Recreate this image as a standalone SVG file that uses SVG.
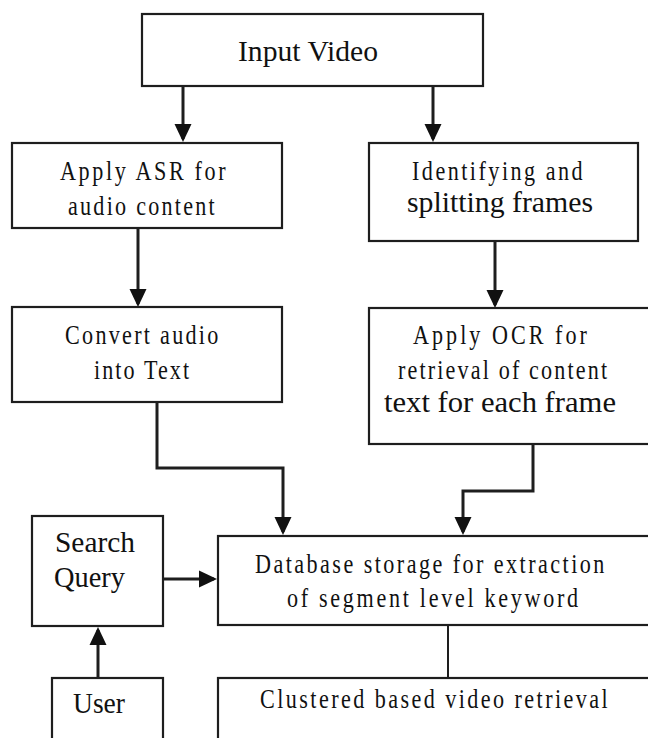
<svg xmlns="http://www.w3.org/2000/svg" width="648" height="738" viewBox="0 0 648 738">
  <style>
    .box { fill: #ffffff; stroke: #1e1e1e; stroke-width: 2.2; }
    .lbl { font-family: "Liberation Serif", "Times New Roman", serif; fill: #111111; }
    .sp  { font-size: 27px; }
    .big { font-size: 29px; }
    .wire { fill: none; stroke: #1e1e1e; stroke-width: 3; stroke-linejoin: miter; }
    .thin { fill: none; stroke: #1e1e1e; stroke-width: 2; }
  </style>
  <defs>
    <marker id="arrow" markerUnits="userSpaceOnUse" markerWidth="18" markerHeight="18" viewBox="0 0 18 18" refX="15" refY="9" orient="auto">
      <path d="M0,0.5 L18,9 L0,17.5 z" fill="#111111"/>
    </marker>
  </defs>
  <rect x="0" y="0" width="648" height="738" fill="#ffffff"/>

  <g id="connectors">
    <path class="wire" d="M183,86 V139" marker-end="url(#arrow)"/>
    <path class="wire" d="M433,86 V139" marker-end="url(#arrow)"/>
    <path class="wire" d="M138,228 V304" marker-end="url(#arrow)"/>
    <path class="wire" d="M495,241 V305" marker-end="url(#arrow)"/>
    <path class="wire" d="M157,402 V468 H283 V532" marker-end="url(#arrow)"/>
    <path class="wire" d="M533,444 V491 H463 V532" marker-end="url(#arrow)"/>
    <path class="wire" d="M156,579 H214" marker-end="url(#arrow)"/>
    <path class="wire" d="M98,677 V630" marker-end="url(#arrow)"/>
    <path class="thin" d="M448,625 V678"/>
  </g>

  <!-- spaced labels use condensed glyphs: x scaled by 0.82, so textLength = width / 0.82 -->
  <g id="input-video">
    <rect class="box" x="142" y="14" width="341" height="72"/>
    <text class="lbl big" x="238" y="61" textLength="140" lengthAdjust="spacingAndGlyphs">Input Video</text>
  </g>

  <g id="apply-asr">
    <rect class="box" x="12" y="143" width="270" height="85"/>
    <text class="lbl sp" transform="translate(60,180) scale(0.82,1)" textLength="202" lengthAdjust="spacing">Apply ASR for</text>
    <text class="lbl sp" transform="translate(68,215) scale(0.82,1)" textLength="179" lengthAdjust="spacing">audio content</text>
  </g>

  <g id="identify-frames">
    <rect class="box" x="369" y="143" width="269" height="98"/>
    <text class="lbl sp" transform="translate(412,180) scale(0.82,1)" textLength="208" lengthAdjust="spacing">Identifying and</text>
    <text class="lbl big" x="407" y="212" textLength="186" lengthAdjust="spacingAndGlyphs">splitting frames</text>
  </g>

  <g id="convert-audio">
    <rect class="box" x="12" y="307" width="270" height="95"/>
    <text class="lbl sp" transform="translate(65,344) scale(0.82,1)" textLength="187" lengthAdjust="spacing">Convert audio</text>
    <text class="lbl sp" transform="translate(94,379) scale(0.82,1)" textLength="116" lengthAdjust="spacing">into Text</text>
  </g>

  <g id="apply-ocr">
    <rect class="box" x="369" y="308" width="300" height="136"/>
    <text class="lbl sp" transform="translate(413,344) scale(0.82,1)" textLength="212" lengthAdjust="spacing">Apply OCR for</text>
    <text class="lbl sp" transform="translate(398,379) scale(0.82,1)" textLength="255" lengthAdjust="spacing">retrieval of content</text>
    <text class="lbl big" x="384" y="412" textLength="232" lengthAdjust="spacingAndGlyphs">text for each frame</text>
  </g>

  <g id="search-query">
    <rect class="box" x="32" y="516" width="131" height="110"/>
    <text class="lbl big" x="55" y="552" textLength="80" lengthAdjust="spacingAndGlyphs">Search</text>
    <text class="lbl big" x="54" y="587" textLength="71" lengthAdjust="spacingAndGlyphs">Query</text>
  </g>

  <g id="database-storage">
    <rect class="box" x="218" y="536" width="450" height="89"/>
    <text class="lbl sp" transform="translate(255,573) scale(0.82,1)" textLength="426" lengthAdjust="spacing">Database storage for extraction</text>
    <text class="lbl sp" transform="translate(287,607) scale(0.82,1)" textLength="355" lengthAdjust="spacing">of segment level keyword</text>
  </g>

  <g id="user">
    <rect class="box" x="52" y="678" width="111" height="80"/>
    <text class="lbl big" x="73" y="713" textLength="52" lengthAdjust="spacingAndGlyphs">User</text>
  </g>

  <g id="clustered-retrieval">
    <rect class="box" x="218" y="678" width="450" height="80"/>
    <text class="lbl sp" transform="translate(260,708) scale(0.82,1)" textLength="424" lengthAdjust="spacing">Clustered based video retrieval</text>
  </g>
</svg>
